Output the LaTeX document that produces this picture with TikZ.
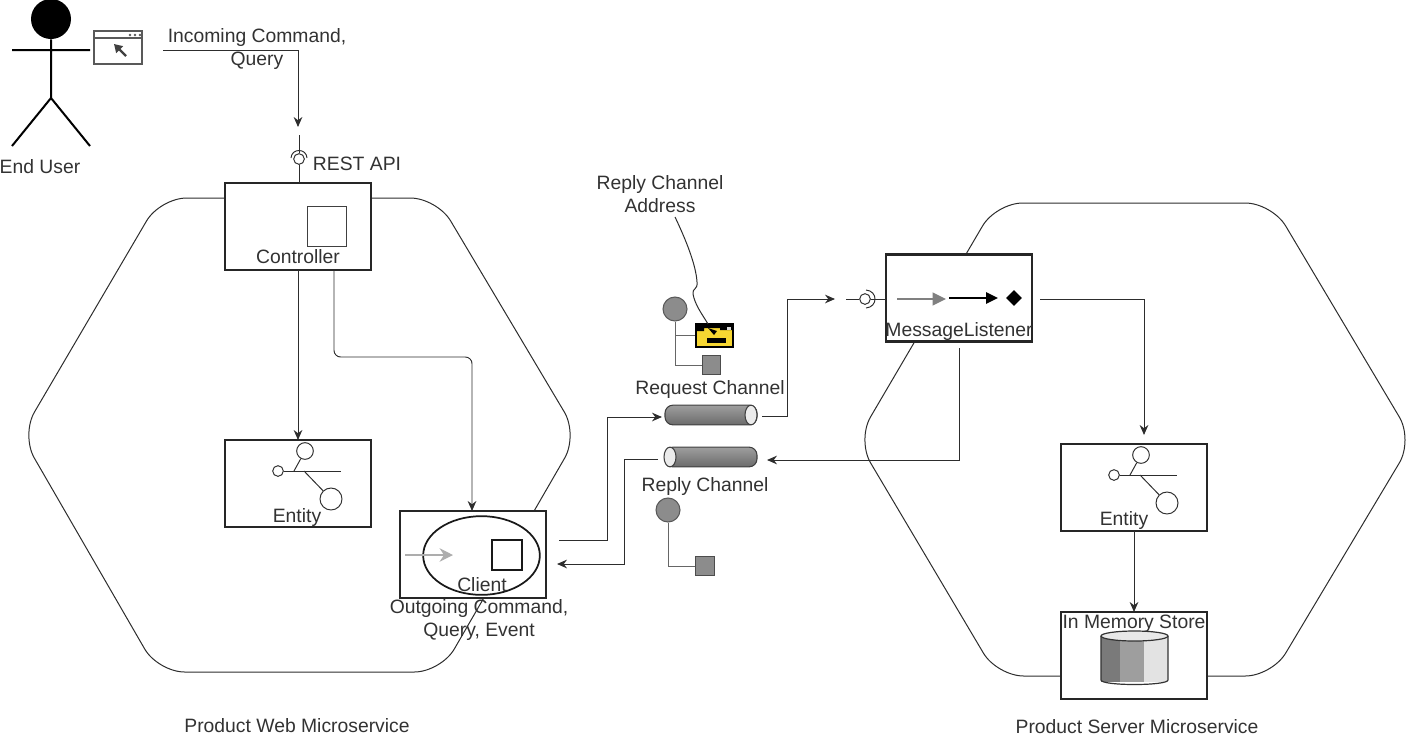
\documentclass[tikz,border=0pt]{standalone}
\usepackage{xcolor}
\usepackage{fontspec}
\setmainfont{Liberation Sans}
\usepackage{tikz}
\usetikzlibrary{arrows.meta,calc,positioning,shapes.geometric}
\definecolor{inkline}{RGB}{45,45,45}
\definecolor{inktext}{RGB}{50,50,50}
\definecolor{chanDot}{RGB}{140,140,140}
\definecolor{addrYellow}{RGB}{246,214,50}
\tikzset{
  hexLine/.style={draw=inkline, line width=0.75pt, rounded corners=20pt},
  compBox/.style={draw=black!85, fill=white, line width=1.6pt, minimum width=109.5pt, minimum height=65.25pt, inner sep=0pt, outer sep=0pt},
  lbl/.style={text=inktext, font=\fontsize{14.5}{17.3}\selectfont, align=center, inner sep=0pt, yshift=-1.4pt},
  flowArrow/.style={draw=inkline, line width=0.72pt, -{Stealth[length=7.5pt,width=6.5pt]}},
  thinLine/.style={draw=inkline, line width=0.72pt},
  dotChan/.style={circle, draw=black!65, fill=chanDot, line width=0.8pt, minimum size=18pt, inner sep=0pt},
  sqChan/.style={draw=black!70, fill=chanDot, line width=0.9pt, minimum size=14pt, inner sep=0pt},
  ringSmall/.style={circle, draw=inkline, fill=white, line width=0.72pt, minimum size=8pt, inner sep=0pt},
  pipeBody/.style={draw=black!75, line width=0.8pt, rounded corners=6pt, minimum width=69pt, minimum height=14.8pt, inner sep=0pt,
    top color=black!38, middle color=black!12, bottom color=black!58},
  pipeCap/.style={ellipse, draw=black!75, fill=black!8, line width=0.8pt, minimum width=9pt, minimum height=14.8pt, inner sep=0pt}
}
% entity icon around a box centre
\newcommand{\DrawEntityIcon}[1]{%
  \node[ringSmall, minimum size=8pt] (#1a) at ($(#1)+(-20,-12.5)$) {};
  \node[ringSmall, minimum size=12.5pt] (#1b) at ($(#1)+(7,-32.5)$) {};
  \node[ringSmall, minimum size=16.5pt] (#1c) at ($(#1)+(33,15.5)$) {};
  \draw[thinLine] (#1a.east) -- ++(57,0);
  \draw[thinLine] ($(#1)+(-4,-12.5)$) -- (#1b);
  \draw[thinLine] ($(#1)+(6,-12.5)$) -- (#1c);
}
\begin{document}
\begin{tikzpicture}[x=0.75pt,y=-0.75pt]
  \useasboundingbox (0,0) rectangle (1406,736);
  % the two hexagons
  \draw[hexLine] (300,198) -- (437,198) -- (578,435) -- (441,672) -- (158,672) -- (21,435) -- (160,198) -- cycle;
  \draw[hexLine] (1130,203) -- (1272,203) -- (1413,440) -- (1272,676) -- (997,676) -- (857,440) -- (996,203) -- cycle;
  % end user
  \node[circle, fill=black, minimum size=30pt, inner sep=0pt] (head) at (51,19) {};
  \coordinate (hip) at (51,98);
  \coordinate (handL) at (12,50);
  \coordinate (handR) at (90,50);
  \coordinate (footL) at (12,146);
  \coordinate (footR) at (90,146);
  \draw[black, line width=1.5pt] (head) -- (hip) (handL) -- (handR) (footL) -- (hip) -- (footR);
  \node[lbl] (userLbl) at (40,165) {End User};
  % browser window
  \node[draw=black!65, fill=white, line width=0.8pt, minimum width=36pt, minimum height=24.75pt, inner sep=0pt] (browser) at (118,47.5) {};
  \draw[black!65, line width=0.8pt] (94,38) -- (142,38);
  \foreach \x in {130,135,140}{
    \fill[black!65] (\x,35) circle[radius=1pt];
  }
  \draw[black!75, line width=1.8pt, -{Triangle[length=6pt,width=7pt]}] (126,56) -- (114,44);
  % components
  \node[compBox] (ctrl) at (298,226.5) {};
  \node[compBox] (entityA) at (298,483.5) {};
  \node[compBox] (client) at (473,554.5) {};
  \node[compBox] (listener) at (959,298) {};
  \node[compBox] (entityB) at (1134,487.5) {};
  \node[compBox] (store) at (1134,655.5) {};
  % controller content
  \node[draw=black!75, line width=0.8pt, minimum size=29.5pt, inner sep=0pt] (ctrlSq) at (327,226.5) {};
  \node[lbl] (ctrlLbl) at (298,255) {Controller};
  % entity content
  \DrawEntityIcon{entityA}
  \DrawEntityIcon{entityB}
  \node[lbl] (entityALbl) at (297,515.5) {Entity};
  \node[lbl] (entityBLbl) at (1124,519) {Entity};
  % client content
  \node[ellipse, draw=black!90, line width=1.3pt, minimum width=87.5pt, minimum height=59pt, inner sep=0pt] (clientOval) at (481.5,555.5) {};
  \node[draw=black!90, line width=1.3pt, minimum size=22.5pt, inner sep=0pt] (clientSq) at (507,555) {};
  \coordinate (clientArrS) at (405,555);
  \coordinate (clientArrE) at (453,555);
  \draw[black!32, line width=2pt, -{Stealth[length=10pt,width=10pt]}] (clientArrS) -- (clientArrE);
  \node[lbl] (clientLbl) at (482,583) {Client};
  \node[lbl] (outLbl) at (479,618.5) {Outgoing Command,\\Query, Event};
  % listener content
  \coordinate (lisA) at (897,299);
  \coordinate (lisB) at (946,299);
  \coordinate (lisC) at (949,298);
  \coordinate (lisD) at (998,298);
  \draw[black!50, line width=1.5pt, -{Triangle[length=10pt,width=9.5pt]}] (lisA) -- (lisB);
  \draw[black, line width=1.6pt, -{Triangle[length=9pt,width=8.5pt]}] (lisC) -- (lisD);
  \node[diamond, fill=black, minimum size=12pt, inner sep=0pt] (lisGem) at (1014,298) {};
  \node[lbl] (listenerLbl) at (959,330) {MessageListener};
  % store content
  \fill[black!52] (1101,636) rectangle (1120,682);
  \fill[black!38] (1120,636) rectangle (1144,682);
  \fill[black!11] (1144,636) rectangle (1168,682);
  \draw[black!80, line width=0.9pt] (1101,636) -- (1101,680) .. controls (1101,686) and (1168,686) .. (1168,680) -- (1168,636);
  \node[ellipse, draw=black!80, fill=black!9, line width=0.9pt, minimum width=50.25pt, minimum height=7.5pt, inner sep=0pt] (storeTop) at (1134.5,636) {};
  \node[lbl] (storeLbl) at (1134,622) {In Memory Store};
  % rest api socket
  \coordinate (restTop) at (299,135);
  \node[ringSmall] (restRing) at (299,159) {};
  \draw[thinLine] (restTop) -- (restRing) (restRing) -- (ctrl.north -| restRing);
  \draw[thinLine] (291,158) .. controls (291.5,148) and (306.5,148) .. (307,158);
  \node[lbl] (restLbl) at (357,162) {REST API};
  % incoming arrow
  \coordinate (cmdStart) at (163,50);
  \coordinate (cmdEnd) at (298,127);
  \draw[flowArrow] (cmdStart) -| (cmdEnd);
  \node[lbl] (cmdLbl) at (257,47) {Incoming Command,\\Query};
  % controller links
  \coordinate (ctrlOut) at (334,270);
  \coordinate (clientIn) at (472,511);
  \draw[flowArrow] (ctrl.south) -- (entityA.north);
  \draw[flowArrow, rounded corners=5pt] (ctrlOut) -- (334,357) -- (472,357) -- (clientIn);
  % channels
  \node[pipeBody] (reqChan) at (711,415) {};
  \node[pipeCap] (reqCap) at (751,415) {};
  \node[pipeBody] (repChan) at (711,457) {};
  \node[pipeCap] (repCap) at (670,457) {};
  \node[lbl] (reqLbl) at (710,387.5) {Request Channel};
  \node[lbl] (repLbl) at (705,484.5) {Reply Channel};
  % client and channel links
  \coordinate (clientOut) at (559,540);
  \coordinate (reqIn) at (662,417);
  \coordinate (repOut) at (658,459);
  \coordinate (clientBack) at (557,564);
  \coordinate (reqOut) at (762,416);
  \coordinate (lisIn) at (835,299);
  \draw[flowArrow] (clientOut) -- (607,540) -- (607,417) -- (reqIn);
  \draw[flowArrow] (repOut) -- (624,459) -- (624,564) -- (clientBack);
  \draw[flowArrow] (reqOut) -- (787,416) -- (787,299) -- (lisIn);
  % listener socket
  \coordinate (lisStub) at (846,299);
  \node[ringSmall] (lisRing) at (865,299) {};
  \draw[thinLine] (lisStub) -- (lisRing) (lisRing) -- (listener.west |- lisRing);
  \draw[thinLine] (866,290) .. controls (878,291) and (878,307) .. (866,308);
  % listener links
  \coordinate (lisOut) at (1040,299);
  \coordinate (entityIn) at (1144,435);
  \coordinate (lisDown) at (959,348);
  \coordinate (repIn) at (767,460);
  \draw[flowArrow] (lisOut) -| (entityIn);
  \draw[flowArrow] (lisDown) |- (repIn);
  \draw[flowArrow] (entityB.south) -- (store.north);
  % reply address group
  \node[dotChan] (reqDot) at (675,309) {};
  \node[sqChan] (reqSq) at (711.5,365) {};
  \node[draw=black, fill=addrYellow, line width=1.8pt, minimum width=28pt, minimum height=17pt, inner sep=0pt] (addrBox) at (714.5,335.5) {};
  \draw[thinLine, black!60] (reqDot) -- (reqDot |- reqSq) -- (reqSq);
  \draw[thinLine, black!60] (reqDot |- addrBox) -- (addrBox);
  % address icon details
  \fill[black] (696,325) rectangle (704,331) (720,325) rectangle (733,330) (704,325) rectangle (720,328);
  \fill[black] (707,338) rectangle (726,343);
  \fill[black] (708,328) -- (717,331) -- (714,335) -- cycle;
  \fill[black!15] (727,327) rectangle (731,329.5);
  \node[lbl] (addrLbl) at (660,192) {Reply Channel\\Address};
  \coordinate (addrStart) at (675,217);
  \draw[draw=inkline, line width=0.75pt] (addrStart) .. controls (686,240) and (696,265) .. (697,282) .. controls (698,290) and (692,288) .. (693,294) .. controls (695,305) and (702,314) .. (708,324);
  % reply group
  \node[dotChan] (repDot) at (668,510) {};
  \node[sqChan] (repSq) at (705,566) {};
  \draw[thinLine, black!60] (repDot) -- (repDot |- repSq) -- (repSq);
  % titles
  \node[lbl] (webTitle) at (297,724) {Product Web Microservice};
  \node[lbl] (srvTitle) at (1137,725) {Product Server Microservice};
\end{tikzpicture}
\end{document}
